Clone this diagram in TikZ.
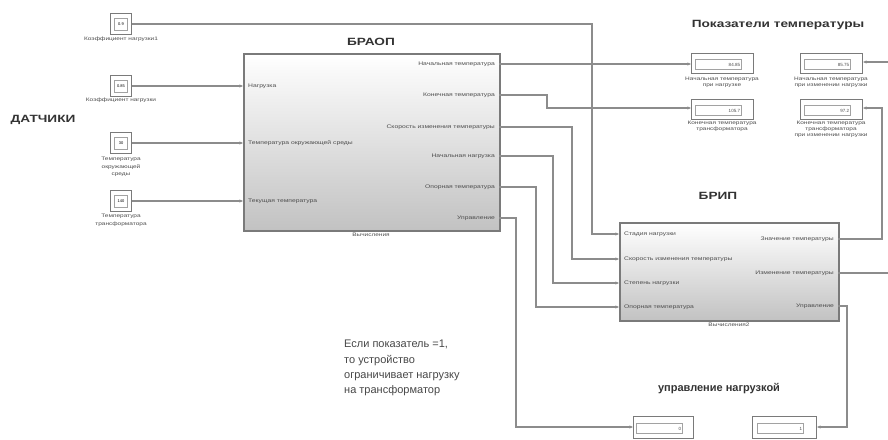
\documentclass[tikz,border=0pt]{standalone}
\usepackage{fontspec}
\setmainfont{Liberation Sans}
\newfontfamily\widefont[FakeStretch=1.3]{Liberation Sans}
\usetikzlibrary{arrows.meta}
\definecolor{wire}{HTML}{8C8C8C}
\definecolor{bord}{HTML}{7A7A7A}
\begin{document}
\begin{tikzpicture}[x=1pt,y=-1pt,
  wireline/.style={draw=wire,line width=1.1pt,-{Stealth[length=3.5pt,width=3pt]}},
  freeline/.style={draw=wire,line width=1.1pt},
  bigblock/.style={draw=bord,line width=2pt,top color=white,middle color=black!3,bottom color=black!24,inner sep=0pt,anchor=north west},
  constbox/.style={draw=bord,line width=1pt,fill=white,minimum width=21pt,minimum height=21pt,inner sep=0pt},
  constin/.style={draw=bord!70,line width=0.5pt,minimum width=13pt,minimum height=12pt,inner sep=0pt,font=\fontsize{4}{4}\selectfont},
  dispbox/.style={draw=bord,line width=1pt,fill=white,inner sep=0pt,anchor=north west},
  tiny/.style={font=\widefont\fontsize{5}{6}\selectfont,text=black!70,inner sep=0pt,align=center},
  portl/.style={font=\widefont\fontsize{5.2}{6}\selectfont,text=black!70,inner sep=0pt,anchor=west},
  portr/.style={font=\widefont\fontsize{5.2}{6}\selectfont,text=black!70,inner sep=0pt,anchor=east},
  title/.style={font=\widefont\fontsize{10.5}{12}\selectfont\bfseries,text=black!80,inner sep=0pt},
]
\useasboundingbox (0,0) rectangle (888,439);

% titles
\node[title] (tdat) at (43,120) {ДАТЧИКИ};
\node[title] (tbraop) at (371,42) {БРАОП};
\node[title] (tbrip) at (718,196) {БРИП};
\node[title] (tpok) at (778,25) {Показатели температуры};
\node[font=\fontsize{11}{12}\selectfont\bfseries,text=black!80,inner sep=0pt] (tupr) at (719,389) {управление нагрузкой};
\node[font=\fontsize{11}{15.3}\selectfont,text=black!72,align=left,anchor=north west,inner sep=0pt] (comment) at (344,340)
 {Если показатель =1,\\то устройство\\ограничивает нагрузку\\на трансформатор};

% constant blocks
\node[constbox] (c1) at (121,24) {};
\node[constin] (c1v) at (c1) {0.9};
\node[tiny,anchor=north] (c1l) at (121,37) {Коэффициент нагрузки1};
\node[constbox] (c2) at (121,86) {};
\node[constin] (c2v) at (c2) {0.85};
\node[tiny,anchor=north] (c2l) at (121,98) {Коэффициент нагрузки};
\node[constbox] (c3) at (121,143) {};
\node[constin] (c3v) at (c3) {30};
\node[tiny,anchor=north,font=\widefont\fontsize{5}{7.5}\selectfont] (c3l) at (121,157) {Температура\\окружающей\\среды};
\node[constbox] (c4) at (121,201) {};
\node[constin] (c4v) at (c4) {140};
\node[tiny,anchor=north,font=\widefont\fontsize{5}{7.5}\selectfont] (c4l) at (121,214) {Температура\\трансформатора};

% BRAOP
\node[bigblock,minimum width=256pt,minimum height=177pt] (braop) at (243,53) {};
\node[tiny,anchor=north] (braopl) at (371,233) {Вычисления};
\coordinate (ai1) at (243,86);
\coordinate (ai2) at (243,143);
\coordinate (ai3) at (243,201);
\coordinate (ao1) at (499,64);
\coordinate (ao2) at (499,95);
\coordinate (ao3) at (499,127);
\coordinate (ao4) at (499,156);
\coordinate (ao5) at (499,187);
\coordinate (ao6) at (499,218);
\node[portl] (ail1) at (248,86) {Нагрузка};
\node[portl] (ail2) at (248,143) {Температура окружающей среды};
\node[portl] (ail3) at (248,201) {Текущая температура};
\node[portr] (aol1) at (495,64) {Начальная температура};
\node[portr] (aol2) at (495,95) {Конечная температура};
\node[portr] (aol3) at (495,127) {Скорость изменения температуры};
\node[portr] (aol4) at (495,156) {Начальная нагрузка};
\node[portr] (aol5) at (495,187) {Опорная температура};
\node[portr] (aol6) at (495,218) {Управление};

% BRIP
\node[bigblock,minimum width=219pt,minimum height=98pt] (brip) at (619,222) {};
\node[tiny,anchor=north] (bripl) at (729,323) {Вычисления2};
\coordinate (bi1) at (619,234);
\coordinate (bi2) at (619,259);
\coordinate (bi3) at (619,283);
\coordinate (bi4) at (619,307);
\coordinate (bo1) at (838,239);
\coordinate (bo2) at (838,273);
\coordinate (bo3) at (838,306);
\node[portl] (bil1) at (624,234) {Стадия нагрузки};
\node[portl] (bil2) at (624,259) {Скорость изменения температуры};
\node[portl] (bil3) at (624,283) {Степень нагрузки};
\node[portl] (bil4) at (624,307) {Опорная температура};
\node[portr] (bol1) at (834,239) {Значение температуры};
\node[portr] (bol2) at (834,273) {Изменение температуры};
\node[portr] (bol3) at (834,306) {Управление};

% displays
\node[dispbox,minimum width=62pt,minimum height=20pt] (d1) at (691,53) {};
\node[dispbox,minimum width=62pt,minimum height=20pt] (d2) at (691,99) {};
\node[dispbox,minimum width=62pt,minimum height=20pt] (d3) at (800,53) {};
\node[dispbox,minimum width=62pt,minimum height=20pt] (d4) at (800,99) {};
\node[dispbox,minimum width=60pt,minimum height=22pt] (d5) at (633,416) {};
\node[dispbox,minimum width=64pt,minimum height=22pt] (d6) at (752,416) {};
\foreach \d/\v in {d1/84.85,d2/105.7,d3/85.75,d4/97.2,d5/0,d6/1}{
  \node[draw=bord!70,line width=0.6pt,minimum width=46pt,minimum height=10pt,inner sep=1pt,text=black!70,
        font=\fontsize{4.5}{5}\selectfont,align=right,text width=43pt] (\d v) at ([xshift=-4pt,yshift=-1pt]\d.center) {\v};
}
\node[tiny,anchor=north] (d1l) at (722,77) {Начальная температура\\при нагрузке};
\node[tiny,anchor=north] (d2l) at (722,121) {Конечная температура\\трансформатора};
\node[tiny,anchor=north] (d3l) at (831,77) {Начальная температура\\при изменении нагрузки};
\node[tiny,anchor=north] (d4l) at (831,121) {Конечная температура\\трансформатора\\при изменении нагрузки};

% free ends at picture edge
\coordinate (e2) at (888,273);
\coordinate (e3) at (888,62);

% wires
\draw[wireline] (c1.east |- 0,24) -- (592,24) -- (592,234) -- (bi1);
\draw[wireline] (c2.east |- ai1) -- (ai1);
\draw[wireline] (c3.east) -- (ai2);
\draw[wireline] (c4.east) -- (ai3);
\draw[wireline] (ao1) -- (d1.west |- ao1);
\draw[wireline] (ao2) -- (547,95) -- (547,108) -- (d2.west |- 0,108);
\draw[wireline] (ao3) -- (572,127) -- (572,259) -- (bi2);
\draw[wireline] (ao4) -- (553,156) -- (553,283) -- (bi3);
\draw[wireline] (ao5) -- (536,187) -- (536,307) -- (bi4);
\draw[wireline] (ao6) -- (516,218) -- (516,427) -- (d5.west |- 0,427);
\draw[wireline] (bo1) -- (882,239) -- (882,108) -- (d4.east |- 0,108);
\draw[freeline] (bo2) -- (e2);
\draw[wireline] (e3) -- (d3.east |- e3);
\draw[wireline] (bo3) -- (847,306) -- (847,427) -- (d6.east |- 0,427);
\end{tikzpicture}
\end{document}
